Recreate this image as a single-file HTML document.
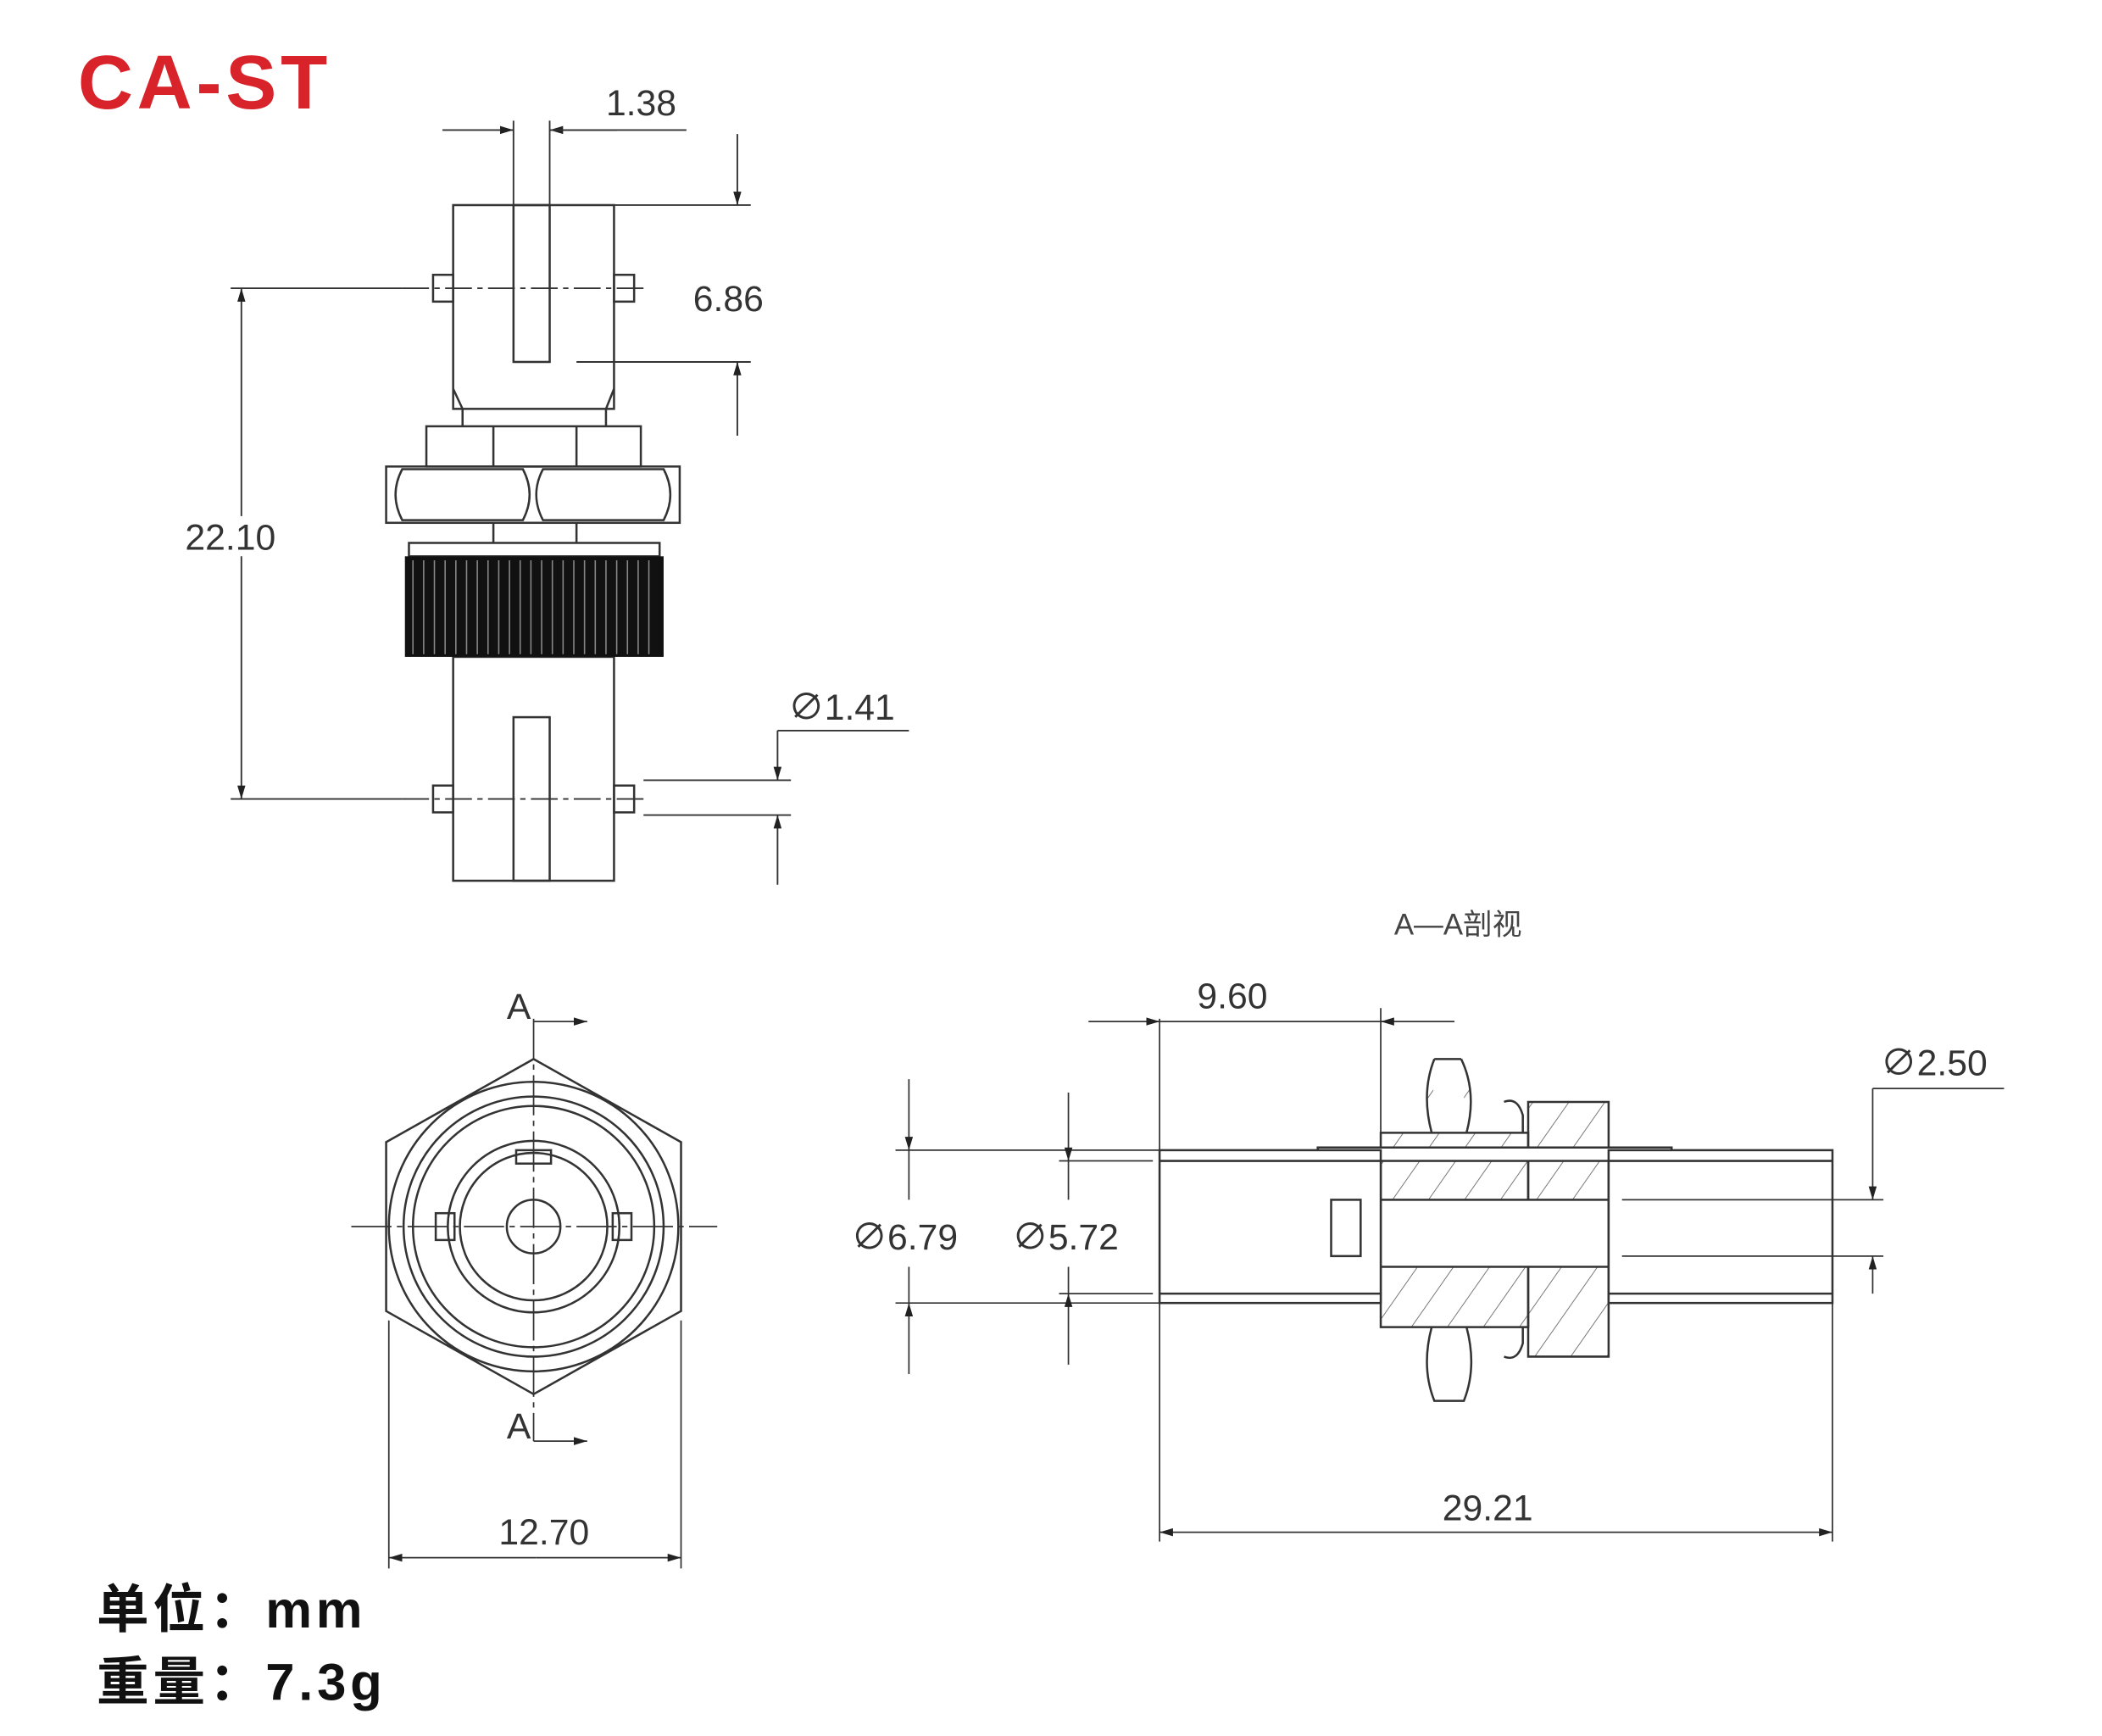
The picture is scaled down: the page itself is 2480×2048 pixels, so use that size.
<!DOCTYPE html>
<html><head><style>html,body{margin:0;padding:0;background:#fff}svg{display:block}</style></head>
<body>
<svg width="2480" height="2048" viewBox="0 0 1568 1295" xmlns="http://www.w3.org/2000/svg" font-family="Liberation Sans, Noto Sans CJK SC, sans-serif">
<defs>
<marker id="a" viewBox="0 0 10 6" refX="10" refY="3" markerWidth="10" markerHeight="6" orient="auto-start-reverse" markerUnits="userSpaceOnUse"><path d="M0,0L10,3L0,6z" fill="#222"/></marker>
<pattern id="h" width="22" height="22" patternUnits="userSpaceOnUse" patternTransform="rotate(35)"><line x1="0" y1="0" x2="0" y2="22" stroke="#555" stroke-width="1"/></pattern>
</defs>
<rect width="1568" height="1295" fill="#fff"/>
<text x="58" y="81" font-size="57" font-weight="bold" fill="#d8232a" letter-spacing="3">CA-ST</text>
<g stroke="#333" stroke-width="1.6" fill="none">
<rect x="338" y="153" width="120" height="152"/>
<rect x="383" y="153" width="27" height="117"/>
<rect x="323" y="205" width="15" height="20"/><rect x="458" y="205" width="15" height="20"/>
<path d="M338,290 L345,305 L345,318 M458,290 L452,305 L452,318"/>
<rect x="318" y="318" width="160" height="30"/>
<line x1="368" y1="318" x2="368" y2="348"/><line x1="430" y1="318" x2="430" y2="348"/>
<rect x="288" y="348" width="219" height="42"/>
<path d="M300,350 Q290,369 300,388 L390,388 Q400,369 390,350Z M405,350 Q395,369 405,388 L495,388 Q505,369 495,350Z"/>
<line x1="368" y1="390" x2="368" y2="405"/><line x1="430" y1="390" x2="430" y2="405"/>
<rect x="305" y="405" width="187" height="10"/>
<rect x="338" y="490" width="120" height="167"/>
<rect x="383" y="535" width="27" height="122"/>
<rect x="323" y="586" width="15" height="20"/><rect x="458" y="586" width="15" height="20"/>
</g>
<rect x="302" y="415" width="193" height="75" fill="#111"/>
<g stroke="#888" stroke-width="1">
<path d="M308,418V488M316,418V488M324,418V488M332,418V488M340,418V488M348,418V488M356,418V488M364,418V488M372,418V488M380,418V488M388,418V488M396,418V488M404,418V488M412,418V488M420,418V488M428,418V488M436,418V488M444,418V488M452,418V488M460,418V488M468,418V488M476,418V488M484,418V488"/>
</g>
<g stroke="#333" stroke-width="1.2" fill="none">
<line x1="383" y1="90" x2="383" y2="153"/><line x1="410" y1="90" x2="410" y2="153"/>
<line x1="330" y1="97" x2="383" y2="97" marker-end="url(#a)"/><line x1="460" y1="97" x2="410" y2="97" marker-end="url(#a)"/>
<line x1="410" y1="97" x2="512" y2="97"/>
<line x1="458" y1="153" x2="560" y2="153"/><line x1="430" y1="270" x2="560" y2="270"/>
<line x1="550" y1="100" x2="550" y2="153" marker-end="url(#a)"/><line x1="550" y1="325" x2="550" y2="270" marker-end="url(#a)"/>
<line x1="172" y1="215" x2="300" y2="215"/><line x1="172" y1="596" x2="300" y2="596"/>
<line x1="300" y1="215" x2="480" y2="215" stroke-dasharray="20 4 4 4"/><line x1="300" y1="596" x2="480" y2="596" stroke-dasharray="20 4 4 4"/>
<line x1="180" y1="385" x2="180" y2="215" marker-end="url(#a)"/><line x1="180" y1="415" x2="180" y2="596" marker-end="url(#a)"/>
<line x1="480" y1="582" x2="590" y2="582"/><line x1="480" y1="608" x2="590" y2="608"/>
<line x1="580" y1="545" x2="580" y2="582" marker-end="url(#a)"/><line x1="580" y1="660" x2="580" y2="608" marker-end="url(#a)"/>
<line x1="580" y1="545" x2="678" y2="545"/>
</g>
<g font-size="27" fill="#333">
<text x="452" y="86">1.38</text><text x="517" y="232">6.86</text><text x="138" y="410">22.10</text><text x="588" y="537">∅1.41</text>
</g>
<g stroke="#333" stroke-width="1.6" fill="none">
<polygon points="398,790 508,852 508,978 398,1040 288,978 288,852"/>
<circle cx="398" cy="915" r="108"/><circle cx="398" cy="915" r="97"/><circle cx="398" cy="915" r="90"/>
<circle cx="398" cy="915" r="64"/><circle cx="398" cy="915" r="55"/><circle cx="398" cy="915" r="20"/>
<rect x="385" y="858" width="26" height="10"/>
<rect x="325" y="905" width="14" height="20"/><rect x="457" y="905" width="14" height="20"/>
</g>
<g stroke="#333" stroke-width="1.1" fill="none">
<line x1="262" y1="915" x2="535" y2="915" stroke-dasharray="30 4 4 4"/>
<line x1="398" y1="760" x2="398" y2="1075" stroke-dasharray="30 4 4 4"/>
<line x1="398" y1="762" x2="438" y2="762" marker-end="url(#a)"/><line x1="398" y1="1075" x2="438" y2="1075" marker-end="url(#a)"/>
<line x1="290" y1="985" x2="290" y2="1170"/><line x1="508" y1="985" x2="508" y2="1170"/>
<line x1="400" y1="1162" x2="290" y2="1162" marker-end="url(#a)"/><line x1="400" y1="1162" x2="508" y2="1162" marker-end="url(#a)"/>
</g>
<g font-size="27" fill="#333"><text x="378" y="760">A</text><text x="378" y="1073">A</text><text x="372" y="1152">12.70</text></g>
<text x="1040" y="697" font-size="22" fill="#444">A—A剖视</text>
<g stroke="#333" stroke-width="1.6" fill="none">
<path d="M1030,845 H1140 V990 H1030Z" fill="url(#h)"/>
<path d="M1140,822 H1200 V1012 H1140Z" fill="url(#h)"/>
<rect x="1030" y="895" width="170" height="50" fill="#fff"/>
<rect x="983" y="856" width="264" height="10" fill="#fff"/>
<rect x="865" y="858" width="165" height="114" fill="#fff"/>
<rect x="1200" y="858" width="167" height="114" fill="#fff"/>
<line x1="865" y1="866" x2="1030" y2="866"/><line x1="865" y1="965" x2="1030" y2="965"/>
<line x1="1200" y1="866" x2="1367" y2="866"/><line x1="1200" y1="965" x2="1367" y2="965"/>
<rect x="993" y="895" width="22" height="42"/>
<path d="M1070,790 Q1060,815 1068,845 M1090,790 Q1102,815 1094,845 M1070,790 H1090" fill="url(#h)"/>
<path d="M1068,990 Q1060,1020 1070,1045 H1092 Q1102,1020 1094,990"/>
<path d="M1122,822 Q1132,818 1136,832 L1136,845 M1122,1012 Q1132,1016 1136,1002 L1136,990"/>
</g>
<g stroke="#333" stroke-width="1.1" fill="none">
<line x1="865" y1="760" x2="865" y2="1150"/><line x1="1030" y1="752" x2="1030" y2="845"/><line x1="1367" y1="972" x2="1367" y2="1150"/>
<line x1="812" y1="762" x2="865" y2="762" marker-end="url(#a)"/><line x1="1085" y1="762" x2="1030" y2="762" marker-end="url(#a)"/>
<line x1="865" y1="762" x2="1030" y2="762"/>
<line x1="1115" y1="1143" x2="865" y2="1143" marker-end="url(#a)"/><line x1="1115" y1="1143" x2="1367" y2="1143" marker-end="url(#a)"/>
<line x1="668" y1="858" x2="865" y2="858"/><line x1="668" y1="972" x2="865" y2="972"/>
<line x1="790" y1="866" x2="860" y2="866"/><line x1="790" y1="965" x2="860" y2="965"/>
<line x1="678" y1="805" x2="678" y2="858" marker-end="url(#a)"/><line x1="678" y1="1025" x2="678" y2="972" marker-end="url(#a)"/>
<line x1="678" y1="858" x2="678" y2="895"/><line x1="678" y1="945" x2="678" y2="972"/>
<line x1="797" y1="815" x2="797" y2="866" marker-end="url(#a)"/><line x1="797" y1="1018" x2="797" y2="965" marker-end="url(#a)"/>
<line x1="797" y1="866" x2="797" y2="895"/><line x1="797" y1="945" x2="797" y2="965"/>
<line x1="1210" y1="895" x2="1405" y2="895"/><line x1="1210" y1="937" x2="1405" y2="937"/>
<line x1="1397" y1="812" x2="1397" y2="895" marker-end="url(#a)"/><line x1="1397" y1="965" x2="1397" y2="937" marker-end="url(#a)"/>
<line x1="1397" y1="812" x2="1495" y2="812"/>
</g>
<g font-size="27" fill="#333">
<text x="893" y="752">9.60</text><text x="1076" y="1134">29.21</text><text x="635" y="932">∅6.79</text><text x="755" y="932">∅5.72</text><text x="1403" y="802">∅2.50</text>
</g>
<g font-size="39" font-weight="bold" fill="#111" letter-spacing="3"><text x="72" y="1214">单位：mm</text><text x="72" y="1268">重量：7.3g</text></g>
</svg>
</body></html>
